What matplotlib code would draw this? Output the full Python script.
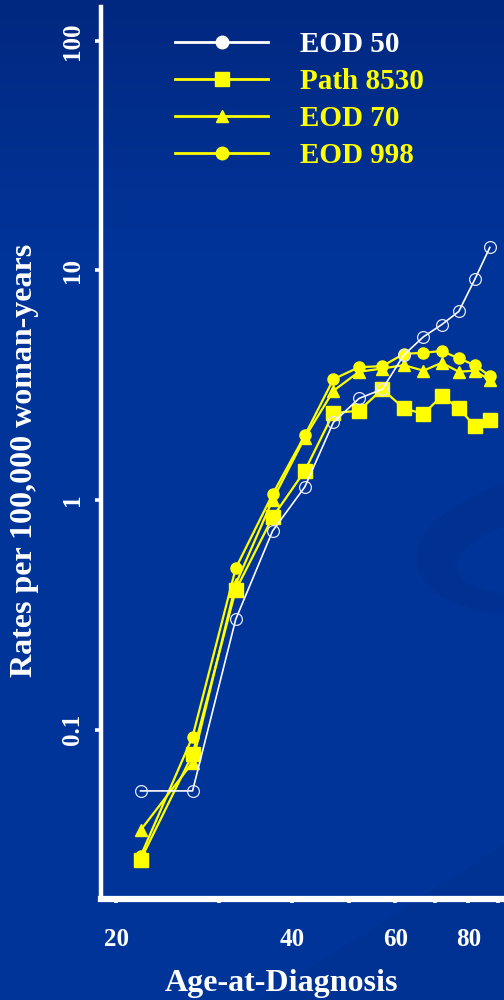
import matplotlib
matplotlib.use("Agg")
import matplotlib.pyplot as plt
import numpy as np
from matplotlib.lines import Line2D
from matplotlib.patches import Ellipse, Polygon

FONT = "Liberation Serif"
WHITE = "#ffffff"
YELLOW = "#ffff00"

ages = [22, 27, 32, 37, 42, 47, 52, 57, 62, 67, 72, 77, 82, 87]
eod50 = [0.054, 0.054, 0.302, 0.733, 1.14, 2.18, 2.77, 3.04, 4.28, 5.14, 5.81, 6.63, 9.14, 12.6]
path8530 = [0.027, 0.078, 0.405, 0.841, 1.34, 2.39, 2.45, 3.04, 2.51, 2.37, 2.84, 2.51, 2.10, 2.23]
eod70 = [0.0364, 0.0718, 0.43, 1.0, 1.87, 2.99, 3.62, 3.74, 3.87, 3.66, 3.96, 3.62, 3.66, 3.33]
eod998 = [0.028, 0.093, 0.504, 1.06, 1.91, 3.36, 3.79, 3.83, 4.33, 4.38, 4.46, 4.14, 3.87, 3.47]

xticks = [20, 30, 40, 50, 60, 70, 80, 90]
xticklabels = ["20", "", "40", "", "60", "", "80", ""]
yticks = [0.1, 1, 10, 100]
yticklabels = ["0.1", "1", "10", "100"]

W, H = 504, 1000
fig = plt.figure(figsize=(W / 100, H / 100), dpi=100)

# background: slide-style blue gradient with a faint swoosh
bg = fig.add_axes([0, 0, 1, 1])
bg.set_axis_off()
yy = np.linspace(0, 1, H)[:, None] * np.ones((1, W))
t = np.clip(yy * H / 250.0, 0, 1)
top = np.array([2, 40, 128]) / 255.0
mid = np.array([0, 52, 153]) / 255.0
img = top[None, None, :] * (1 - t[..., None]) + mid[None, None, :] * t[..., None]
bg.imshow(img, extent=(0, W, H, 0), aspect="auto", interpolation="bilinear")
bg.set_xlim(0, W)
bg.set_ylim(H, 0)
bg.add_patch(Polygon([(260, 1000), (504, 845), (504, 1000)], closed=True,
                     facecolor="#002f8c", edgecolor="none", alpha=0.35))
bg.add_patch(Ellipse((585, 540), 340, 150, angle=-8, facecolor="#003192", edgecolor="none"))
bg.add_patch(Ellipse((600, 548), 290, 90, angle=-8, facecolor="#003499", edgecolor="none"))

ax = fig.add_axes([101 / W, 1 - 899 / H, 1 - 101 / W, (899 - 7) / H])
ax.patch.set_alpha(0)
ax.set_xscale("log")
ax.set_yscale("log")
ax.set_xlim(18.83, 92.0)
ax.set_ylim(0.01826, 140.6)

ax.plot(ages, eod70, color=YELLOW, lw=1.6, marker="^", ms=9, mec=YELLOW, mfc=YELLOW, zorder=3)
ax.plot(ages, eod998, color=YELLOW, lw=1.6, marker="o", ms=8, mec=YELLOW, mfc=YELLOW, zorder=4)
ax.plot(ages, path8530, color=YELLOW, lw=1.6, marker="s", ms=9.5, mec=YELLOW, mfc=YELLOW, zorder=5)
ax.plot(ages, eod50, color=WHITE, lw=1.2, marker="o", ms=8.5, mfc="none", mec="#e8e8ff", mew=0.9, zorder=6)

for side in ["top", "right"]:
    ax.spines[side].set_visible(False)
ax.spines["left"].set_color(WHITE)
ax.spines["left"].set_linewidth(3.2)
ax.spines["bottom"].set_color(WHITE)
ax.spines["bottom"].set_linewidth(4.5)

ax.xaxis.set_minor_locator(matplotlib.ticker.NullLocator())
ax.yaxis.set_minor_locator(matplotlib.ticker.NullLocator())
ax.set_xticks(xticks)
ax.set_xticklabels(xticklabels, fontfamily=FONT, fontweight="bold", fontsize=18, color=WHITE)
ax.set_yticks(yticks)
ax.set_yticklabels(yticklabels, fontfamily=FONT, fontweight="bold", fontsize=18, color=WHITE,
                   rotation=90, va="center")
ax.tick_params(axis="x", direction="out", length=3, width=2.6, color=WHITE, pad=18)
ax.tick_params(axis="y", direction="out", length=4.5, width=2.6, color=WHITE, pad=8)

fig.text(281.7 / W, 1 - 984 / H, "Age-at-Diagnosis", fontfamily=FONT, fontweight="bold",
         fontsize=23, color=WHITE, ha="center", va="center")
fig.text(25 / W, 1 - 460 / H, "Rates per 100,000 woman-years", fontfamily=FONT, fontweight="bold",
         fontsize=23, color=WHITE, ha="center", va="center", rotation=90)

handles = [
    Line2D([], [], color=WHITE, lw=2, marker="o", ms=9, mfc=WHITE, mec=WHITE),
    Line2D([], [], color=YELLOW, lw=2, marker="s", ms=9.5, mfc=YELLOW, mec=YELLOW),
    Line2D([], [], color=YELLOW, lw=2, marker="^", ms=8, mfc=YELLOW, mec=YELLOW),
    Line2D([], [], color=YELLOW, lw=2, marker="o", ms=9, mfc=YELLOW, mec=YELLOW),
]
labels = ["EOD 50", "Path 8530", "EOD 70", "EOD 998"]
leg = ax.legend(handles, labels, loc="upper left", bbox_to_anchor=(175 / W, 1 - 31 / H),
                bbox_transform=fig.transFigure, frameon=False, borderpad=0, borderaxespad=0,
                handlelength=3.2, handletextpad=1.1, labelspacing=0.34,
                prop={"family": FONT, "weight": "bold", "size": 21},
                labelcolor=[WHITE, YELLOW, YELLOW, YELLOW])

fig.savefig("out.png", dpi=100)
